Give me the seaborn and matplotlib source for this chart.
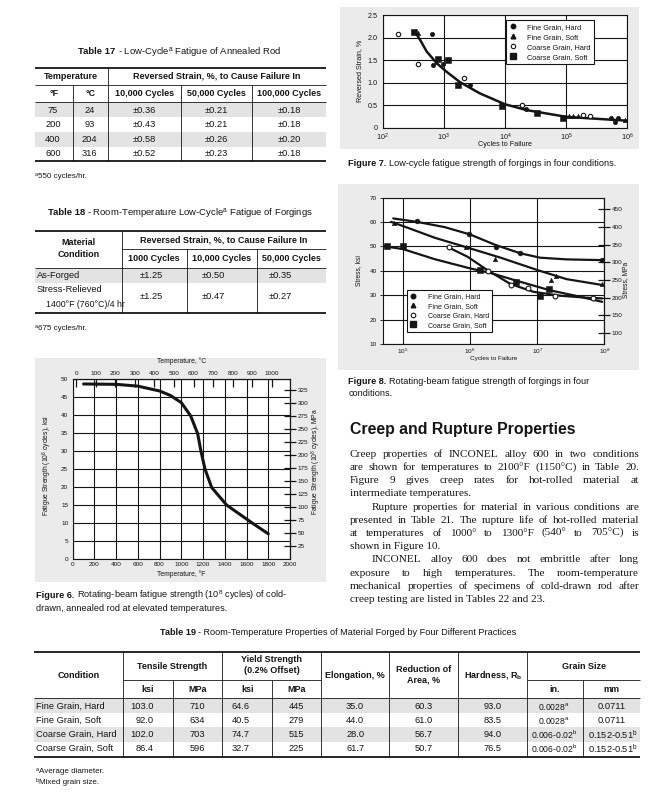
import matplotlib
matplotlib.use("Agg")
import matplotlib.pyplot as plt
import seaborn as sns
import numpy as np
import pandas as pd
from matplotlib.lines import Line2D
from matplotlib.patches import Rectangle

# ------------------------------------------------------------------ data
conditions = ["Fine Grain, Hard", "Fine Grain, Soft", "Coarse Grain, Hard", "Coarse Grain, Soft"]

# Table 17
t17_temp_f = ["75", "200", "400", "600"]
t17_temp_c = ["24", "93", "204", "316"]
t17_cycle_labels = ["10,000 Cycles", "50,000 Cycles", "100,000 Cycles"]
t17_strain_10k = ["±0.36", "±0.43", "±0.58", "±0.52"]
t17_strain_50k = ["±0.21", "±0.21", "±0.26", "±0.23"]
t17_strain_100k = ["±0.18", "±0.18", "±0.20", "±0.18"]

# Table 18
t18_cycle_labels = ["1000 Cycles", "10,000 Cycles", "50,000 Cycles"]
t18_conditions = ["As-Forged", "Stress-Relieved"]
t18_detail = ["", "1400°F (760°C)/4 hr"]
t18_strain_1k = ["±1.25", "±1.25"]
t18_strain_10k = ["±0.50", "±0.47"]
t18_strain_50k = ["±0.35", "±0.27"]

# Table 19
t19_tensile_ksi = ["103.0", "92.0", "102.0", "86.4"]
t19_tensile_mpa = ["710", "634", "703", "596"]
t19_yield_ksi = ["64.6", "40.5", "74.7", "32.7"]
t19_yield_mpa = ["445", "279", "515", "225"]
t19_elongation = ["35.0", "44.0", "28.0", "61.7"]
t19_reduction = ["60.3", "61.0", "56.7", "50.7"]
t19_hardness = ["93.0", "83.5", "94.0", "76.5"]
t19_grain_in = ["0.0028", "0.0028", "0.006-0.02", "0.006-0.02"]
t19_grain_in_note = ["a", "a", "b", "b"]
t19_grain_mm = ["0.0711", "0.0711", "0.152-0.51", "0.152-0.51"]
t19_grain_mm_note = ["", "", "b", "b"]

# Figure 7 (low-cycle fatigue)
f7_fh_cycles = [632, 656, 982, 2680, 22000, 541000, 628000, 713000]
f7_fh_strain = [2.07, 1.39, 1.42, 0.95, 0.41, 0.22, 0.13, 0.21]
f7_fs_cycles = [383, 745, 110000, 131000, 154000, 912000]
f7_fs_strain = [2.11, 1.46, 0.26, 0.26, 0.26, 0.18]
f7_ch_cycles = [180, 383, 2160, 18700, 191000, 245000]
f7_ch_strain = [2.07, 1.41, 1.11, 0.50, 0.28, 0.27]
f7_cs_cycles = [325, 794, 1190, 1680, 8800, 33000, 90000]
f7_cs_strain = [2.12, 1.52, 1.50, 0.95, 0.48, 0.32, 0.21]
f7_curve_cycles = [351, 408, 524, 764, 1110, 1840, 3900, 10000, 22600, 102000, 1000000]
f7_curve_strain = [2.09, 1.95, 1.69, 1.43, 1.24, 1.01, 0.76, 0.52, 0.39, 0.24, 0.155]
f7_xticks = [1e2, 1e3, 1e4, 1e5, 1e6]
f7_xticklabels = [r"$10^{2}$", r"$10^{3}$", r"$10^{4}$", r"$10^{5}$", r"$10^{6}$"]
f7_yticks = [0, 0.5, 1.0, 1.5, 2.0, 2.5]
f7_yticklabels = ["0", "0.5", "1.0", "1.5", "2.0", "2.5"]

# Figure 8 (rotating-beam fatigue of forgings)
f8_fh_cycles = [161000, 966000, 2390000, 5600000, 93000000]
f8_fh_stress = [60.4, 55.2, 49.75, 47.2, 44.4]
f8_fs_cycles = [73600, 863000, 2350000, 16100000, 19000000, 93000000]
f8_fs_stress = [59.7, 49.6, 44.8, 36.4, 37.9, 34.5]
f8_ch_cycles = [490000, 1850000, 4080000, 7200000, 18500000, 69000000]
f8_ch_stress = [49.6, 39.9, 34.3, 33.0, 29.5, 28.7]
f8_cs_cycles = [56800, 100000, 1410000, 4900000, 11000000, 15000000]
f8_cs_stress = [50.0, 50.0, 40.2, 35.4, 29.7, 32.4]
f8_fh_curve_cycles = [71100, 167000, 413000, 1000000, 2390000, 5600000, 11000000, 27400000, 93000000]
f8_fh_curve_stress = [61.5, 60.0, 57.95, 54.9, 50.6, 47.2, 45.4, 44.7, 44.4]
f8_fs_curve_cycles = [65800, 106000, 294000, 1000000, 2840000, 10100000, 27400000, 93000000]
f8_fs_curve_stress = [60.1, 58.1, 53.6, 49.2, 45.4, 40.3, 36.6, 34.2]
f8_cs_curve_cycles = [49500, 100000, 294000, 1000000, 2020000, 5600000, 15600000, 38500000, 93000000]
f8_cs_curve_stress = [50.2, 48.9, 44.8, 41.0, 39.1, 35.5, 32.0, 29.7, 27.3]
f8_ch_curve_cycles = [462000, 912000, 1800000, 3990000, 8800000, 21900000, 54000000, 93000000]
f8_ch_curve_stress = [49.75, 45.8, 40.3, 34.6, 31.4, 29.8, 29.0, 28.7]
f8_xticks = [1e5, 1e6, 1e7, 1e8]
f8_xticklabels = [r"$10^{5}$", r"$10^{6}$", r"$10^{7}$", r"$10^{8}$"]
f8_yticks = [10, 20, 30, 40, 50, 60, 70]
f8_mpa_ticks = [100, 150, 200, 250, 300, 350, 400, 450]

# Figure 6 (fatigue strength vs temperature)
f6_temp_f = [100, 400, 600, 800, 900, 1000, 1086, 1150, 1181, 1218, 1279, 1417, 1653, 1800]
f6_strength_ksi = [48.7, 48.6, 48.1, 46.75, 45.5, 43.5, 39.8, 34.9, 29.9, 25.0, 19.9, 15.0, 10.0, 7.0]
f6_xticks = [0, 200, 400, 600, 800, 1000, 1200, 1400, 1600, 1800, 2000]
f6_yticks = [0, 5, 10, 15, 20, 25, 30, 35, 40, 45, 50]
f6_c_ticks = [0, 100, 200, 300, 400, 500, 600, 700, 800, 900, 1000]
f6_mpa_ticks = [25, 50, 75, 100, 125, 150, 175, 200, 225, 250, 275, 300, 325]

body_lines = [
    "Creep properties of INCONEL alloy 600 in two conditions",
    "are shown for temperatures to 2100°F (1150°C) in Table 20.",
    "Figure 9 gives creep rates for hot-rolled material at",
    "intermediate temperatures.",
    "Rupture properties for material in various conditions are",
    "presented in Table 21. The rupture life of hot-rolled material",
    "at temperatures of 1000° to 1300°F (540° to 705°C) is",
    "shown in Figure 10.",
    "INCONEL alloy 600 does not embrittle after long",
    "exposure to high temperatures. The room-temperature",
    "mechanical properties of specimens of cold-drawn rod after",
    "creep testing are listed in Tables 22 and 23.",
]
body_indent = [0, 0, 0, 0, 1, 0, 0, 0, 1, 0, 0, 0]
body_last = [0, 0, 0, 1, 0, 0, 0, 1, 0, 0, 0, 1]

# ------------------------------------------------------------------ style
sns.set_theme(style="white")
INK = "#151515"
plt.rcParams.update({
    "font.family": ["Liberation Sans", "DejaVu Sans"],
    "mathtext.fontset": "custom",
    "mathtext.rm": "Liberation Sans",
    "mathtext.it": "Liberation Sans:italic",
    "mathtext.bf": "Liberation Sans:bold",
    "axes.edgecolor": INK,
    "axes.linewidth": 0.8,
    "text.color": INK,
    "xtick.color": INK,
    "ytick.color": INK,
    "axes.labelcolor": INK,
})
SANS = ["Liberation Sans", "DejaVu Sans"]
SERIF = ["Liberation Serif", "DejaVu Serif"]
GRAY_BOX = "#ebebeb"
SHADE = "#e3e3e3"

W, H, DPI = 667, 797, 100
fig = plt.figure(figsize=(W / DPI, H / DPI), dpi=DPI)
fig.patch.set_facecolor("white")
R = fig.canvas.get_renderer()


def fx(x):
    return x / W


def fy(y):
    return 1 - y / H


def rect(x0, y0, x1, y1, color, z=0):
    fig.add_artist(Rectangle((fx(x0), fy(y1)), (x1 - x0) / W, (y1 - y0) / H,
                             transform=fig.transFigure, facecolor=color,
                             edgecolor="none", zorder=z))


def hline(x0, x1, y, lw=0.55):
    fig.add_artist(Line2D([fx(x0), fx(x1)], [fy(y), fy(y)], transform=fig.transFigure,
                          lw=lw, color=INK, solid_capstyle="butt", zorder=2))


def vline(x, y0, y1, lw=0.55):
    fig.add_artist(Line2D([fx(x), fx(x)], [fy(y0), fy(y1)], transform=fig.transFigure,
                          lw=lw, color=INK, solid_capstyle="butt", zorder=2))


def txt(x, y, s, size=6.6, weight="normal", ha="center", va="center", family=None, **kw):
    return fig.text(fx(x), fy(y), s, fontsize=size, fontweight=weight, ha=ha, va=va,
                    color=INK, family=family or SANS, zorder=3, **kw)


def width(t):
    return t.get_window_extent(R).width


def two_part(x, y, bold, rest, size, ha="left", gap=2.5):
    a = txt(0, y, bold, size=size, weight="bold", ha="left")
    b = txt(0, y, rest, size=size, ha="left")
    wa, wb = width(a), width(b)
    x0 = x - (wa + gap + wb) / 2 if ha == "center" else x
    a.set_x(fx(x0))
    b.set_x(fx(x0 + wa + gap))


THICK, THIN = 1.3, 0.6
HDR = 6.5
CELL = 6.7
NOTE = {"a": "ᵃ", "b": "ᵇ", "": ""}

# ------------------------------------------------------------------ Table 17
two_part(180, 52, "Table 17", "- Low-Cycle$^{\\mathrm{a}}$ Fatigue of Annealed Rod", 6.8, ha="center")
hline(35, 326, 68.3, THICK)
hline(35, 326, 85, THIN)
hline(35, 326, 101.7, THIN)
t17_rows = [110.2, 124.6, 139.3, 153.8]
rect(35, 102, 326, 117.4, SHADE)
rect(35, 132, 326, 146.8, SHADE)
hline(35, 326, 161, THICK)
vline(108.3, 68.3, 161, THIN)
vline(73.3, 85, 161, THIN)
vline(180.7, 85, 161, THIN)
vline(252.3, 85, 161, THIN)
txt(71, 76.5, "Temperature", size=HDR, weight="bold")
txt(217, 76.5, "Reversed Strain, %, to Cause Failure In", size=HDR, weight="bold")
txt(54, 93.5, "°F", size=HDR, weight="bold")
txt(90.8, 93.5, "°C", size=HDR, weight="bold")
for cx, lab in zip([144.5, 216.5, 289.2], t17_cycle_labels):
    txt(cx, 93.5, lab, size=HDR, weight="bold")
for i, y in enumerate(t17_rows):
    txt(53, y, t17_temp_f[i], size=CELL)
    txt(89.5, y, t17_temp_c[i], size=CELL)
    txt(144.5, y, t17_strain_10k[i], size=CELL)
    txt(216.5, y, t17_strain_50k[i], size=CELL)
    txt(289.2, y, t17_strain_100k[i], size=CELL)
txt(35, 176.7, "ᵃ550 cycles/hr.", size=5.8, ha="left")

# ------------------------------------------------------------------ Table 18
two_part(180.5, 212.7, "Table 18", "- Room-Temperature Low-Cycle$^{\\mathrm{a}}$ Fatigue of Forgings", 6.8, ha="center")
hline(35, 326, 230.7, THICK)
hline(121.7, 326, 249.3, THIN)
hline(35, 326, 268.3, THIN)
rect(35, 268.6, 326, 282.5, SHADE)
hline(35, 326, 313.3, THICK)
vline(121.7, 230.7, 313.3, THIN)
vline(186.7, 249.3, 313.3, THIN)
vline(256.7, 249.3, 313.3, THIN)
txt(78.3, 242.7, "Material", size=HDR, weight="bold")
txt(78.3, 254.2, "Condition", size=HDR, weight="bold")
txt(224, 239.5, "Reversed Strain, %, to Cause Failure In", size=HDR, weight="bold")
for cx, lab in zip([154.2, 221.7, 291.3], t18_cycle_labels):
    txt(cx, 258.6, lab, size=HDR, weight="bold")
t18_rows = [275.7, 296.7]
t18_name_rows = [275.7, 289.3]
for i in range(2):
    txt(36.5, t18_name_rows[i], t18_conditions[i], size=CELL, ha="left")
    if t18_detail[i]:
        txt(46, 304.3, t18_detail[i], size=6.3, ha="left")
    txt(151, t18_rows[i], t18_strain_1k[i], size=CELL)
    txt(213, t18_rows[i], t18_strain_10k[i], size=CELL)
    txt(280, t18_rows[i], t18_strain_50k[i], size=CELL)
txt(35, 328, "ᵃ675 cycles/hr.", size=5.8, ha="left")

# ------------------------------------------------------------------ Table 19
two_part(338.3, 632.3, "Table 19", "- Room-Temperature Properties of Material Forged by Four Different Practices", 6.6, ha="center")
c19 = [34, 122.7, 172.7, 222.3, 272.3, 321, 389.3, 458.3, 527.3, 582.7, 640]
cen = [(c19[i] + c19[i + 1]) / 2 for i in range(10)]
hline(34, 640, 652.3, THICK)
hline(122.7, 321, 680, THIN)
hline(527.3, 640, 680, THIN)
hline(34, 640, 697.7, THIN)
rect(34, 698, 640, 713.3, SHADE)
rect(34, 727.4, 640, 741.7, SHADE)
hline(34, 640, 756.7, THICK)
for xi in [122.7, 222.3, 321, 389.3, 458.3, 527.3]:
    vline(xi, 652.3, 756.7, THIN)
for xi in [172.7, 272.3, 582.7]:
    vline(xi, 680, 756.7, THIN)
txt(78.3, 675, "Condition", size=HDR, weight="bold")
txt(172.5, 666.7, "Tensile Strength", size=HDR, weight="bold")
txt(271.7, 659.6, "Yield Strength", size=HDR, weight="bold")
txt(271.7, 670.8, "(0.2% Offset)", size=HDR, weight="bold")
txt(355.2, 675, "Elongation, %", size=HDR, weight="bold")
txt(423.8, 669.4, "Reduction of", size=HDR, weight="bold")
txt(423.8, 680.2, "Area, %", size=HDR, weight="bold")
txt(492.8, 675, "Hardness, R$_{\\mathbf{b}}$", size=HDR, weight="bold")
txt(583.7, 666.7, "Grain Size", size=HDR, weight="bold")
for cx, lab in zip([147.7, 197.5, 247.3, 296.7, 555, 611.3], ["ksi", "MPa", "ksi", "MPa", "in.", "mm"]):
    txt(cx, 689.2, lab, size=HDR, weight="bold")
t19_rows = [706.5, 720.6, 734.4, 748.6]
for i, y in enumerate(t19_rows):
    txt(36, y, conditions[i], size=CELL, ha="left")
    txt(154, y, t19_tensile_ksi[i], size=CELL, ha="right")
    txt(197.5, y, t19_tensile_mpa[i], size=CELL)
    txt(250, y, t19_yield_ksi[i], size=CELL, ha="right")
    txt(296.7, y, t19_yield_mpa[i], size=CELL)
    txt(cen[5], y, t19_elongation[i], size=CELL)
    txt(cen[6], y, t19_reduction[i], size=CELL)
    txt(cen[7], y, t19_hardness[i], size=CELL)
    note = t19_grain_in_note[i]
    txt(cen[8] - 1, y, t19_grain_in[i] + ("$^{\\mathrm{%s}}$" % note if note else ""), size=6.2)
    note = t19_grain_mm_note[i]
    txt(cen[9] + (1 if note else 0), y, t19_grain_mm[i] + ("$^{\\mathrm{%s}}$" % note if note else ""), size=CELL)
txt(36, 771.7, "ᵃAverage diameter.", size=5.8, ha="left")
txt(36, 782.3, "ᵇMixed grain size.", size=5.8, ha="left")

# ------------------------------------------------------------------ gray chart panels
rect(340, 7, 639, 149, GRAY_BOX, z=-1)
rect(338, 184, 639, 370, GRAY_BOX, z=-1)
rect(35, 358, 326, 582, GRAY_BOX, z=-1)


def add_axes_px(left, top, right, bottom):
    return fig.add_axes([fx(left), fy(bottom), (right - left) / W, (bottom - top) / H])


def legend_handles(ms_circle, ms_tri, ms_square):
    return [
        Line2D([], [], ls="", marker="o", mfc=INK, mec=INK, ms=ms_circle, label=conditions[0]),
        Line2D([], [], ls="", marker="^", mfc=INK, mec=INK, ms=ms_tri, label=conditions[1]),
        Line2D([], [], ls="", marker="o", mfc="white", mec=INK, mew=0.8, ms=ms_circle, label=conditions[2]),
        Line2D([], [], ls="", marker="s", mfc=INK, mec=INK, ms=ms_square, label=conditions[3]),
    ]


def scatter_sets(ax, sets, s_circle, s_tri, s_square):
    styles = [dict(marker="o", s=s_circle, color=INK, edgecolor=INK, linewidth=0.4),
              dict(marker="^", s=s_tri, color=INK, edgecolor=INK, linewidth=0.4),
              dict(marker="o", s=s_circle, facecolor="white", edgecolor=INK, linewidth=0.8),
              dict(marker="s", s=s_square, color=INK, edgecolor=INK, linewidth=0.4)]
    for (xs, ys), st in zip(sets, styles):
        sns.scatterplot(x=xs, y=ys, ax=ax, zorder=4, legend=False, **st)


def frame(ax):
    for sp in ax.spines.values():
        sp.set_visible(True)
        sp.set_color(INK)
        sp.set_linewidth(0.8)
    ax.set_facecolor("white")
    ax.set_axisbelow(True)


# ------------------------------------------------------------------ Figure 7
ax7 = add_axes_px(382.7, 15, 627.3, 127.7)
ax7.set_xscale("log")
sns.lineplot(x=f7_curve_cycles, y=f7_curve_strain, ax=ax7, color=INK, lw=1.8,
             sort=False, estimator=None, zorder=3)
scatter_sets(ax7, [(f7_fh_cycles, f7_fh_strain), (f7_fs_cycles, f7_fs_strain),
                   (f7_ch_cycles, f7_ch_strain), (f7_cs_cycles, f7_cs_strain)], 10, 10, 15)
ax7.set_xlim(1e2, 1e6)
ax7.set_ylim(0, 2.5)
ax7.set_xticks(f7_xticks, labels=f7_xticklabels)
ax7.set_yticks(f7_yticks, labels=f7_yticklabels)
ax7.xaxis.set_minor_locator(matplotlib.ticker.NullLocator())
ax7.grid(True, which="major", color=INK, lw=0.8)
ax7.tick_params(axis="y", length=0, labelsize=5.2, pad=3.9)
ax7.tick_params(axis="x", length=0, labelsize=5.2, pad=2.6)
frame(ax7)
ax7.set_xlabel("")
ax7.set_ylabel("")
txt(505, 144.6, "Cycles to Failure", size=5.2)
txt(360, 71.3, "Reversed Strain, %", size=5.2, rotation=90)
leg7 = ax7.legend(handles=legend_handles(3.2, 3.4, 3.9), loc="upper right",
                  bbox_to_anchor=((594 - 382.7) / 244.6, 1 - (20 - 15) / 112.7),
                  borderaxespad=0, fontsize=5.3, frameon=True, fancybox=False,
                  edgecolor=INK, framealpha=1, labelspacing=0.38, handlelength=1.0,
                  handletextpad=1.4, borderpad=0.5)
leg7.get_frame().set_linewidth(0.8)
two_part(348.3, 163.3, "Figure 7.", "Low-cycle fatigue strength of forgings in four conditions.", 6.6)

# ------------------------------------------------------------------ Figure 8
ax8 = add_axes_px(382.7, 197.7, 604.3, 344)
ax8.set_xscale("log")
for cx_, cy_ in [(f8_fh_curve_cycles, f8_fh_curve_stress), (f8_fs_curve_cycles, f8_fs_curve_stress),
                 (f8_cs_curve_cycles, f8_cs_curve_stress), (f8_ch_curve_cycles, f8_ch_curve_stress)]:
    sns.lineplot(x=cx_, y=cy_, ax=ax8, color=INK, lw=1.6, sort=False, estimator=None, zorder=3)
scatter_sets(ax8, [(f8_fh_cycles, f8_fh_stress), (f8_fs_cycles, f8_fs_stress),
                   (f8_ch_cycles, f8_ch_stress), (f8_cs_cycles, f8_cs_stress)], 12, 10, 24)
ax8.set_xlim(49500, 1e8)
ax8.set_ylim(10, 70)
ax8.set_xticks(f8_xticks, labels=f8_xticklabels)
ax8.set_yticks(f8_yticks, labels=[str(v) for v in f8_yticks])
ax8.xaxis.set_minor_locator(matplotlib.ticker.NullLocator())
ax8.grid(True, which="major", color=INK, lw=0.8)
ax8.tick_params(axis="y", left=True, length=2, width=0.6, labelsize=4.6, pad=2)
ax8.tick_params(axis="x", length=0, labelsize=4.6, pad=2)
frame(ax8)
ax8.set_xlabel("")
ax8.set_ylabel("")
sec8 = ax8.secondary_yaxis("right", functions=(lambda k: k * 6.895, lambda m: m / 6.895))
sec8.set_yticks(f8_mpa_ticks, labels=[str(v) for v in f8_mpa_ticks])
sec8.tick_params(axis="y", right=True, direction="inout", length=8, width=0.9, labelsize=4.6, pad=1.5)
sec8.spines["right"].set_color(INK)
sec8.spines["right"].set_linewidth(0.8)
txt(493.5, 358.5, "Cycles to Failure", size=4.6)
txt(358.3, 271, "Stress, ksi", size=4.8, rotation=90)
txt(626, 280, "Stress, MPa", size=4.8, rotation=90)
leg8 = ax8.legend(handles=legend_handles(3.3, 3.3, 4.6), loc="lower left",
                  bbox_to_anchor=((406.7 - 382.7) / 221.6, (344 - 331.7) / 146.3),
                  borderaxespad=0, fontsize=5.0, frameon=True, fancybox=False,
                  edgecolor=INK, framealpha=1, labelspacing=0.35, handlelength=1.0,
                  handletextpad=1.6, borderpad=0.45)
leg8.get_frame().set_linewidth(0.8)
two_part(348.3, 381.5, "Figure 8.", "Rotating-beam fatigue strength of forgings in four", 6.6)
txt(348.3, 393.5, "conditions.", size=6.6, ha="left")

# ------------------------------------------------------------------ Figure 6
ax6 = add_axes_px(72.7, 379.3, 290, 559)
sns.lineplot(x=f6_temp_f, y=f6_strength_ksi, ax=ax6, color=INK, lw=2.2,
             sort=False, estimator=None, zorder=3)
ax6.set_xlim(0, 2000)
ax6.set_ylim(0, 50)
ax6.set_xticks(f6_xticks, labels=[str(v) for v in f6_xticks])
ax6.set_yticks(f6_yticks, labels=[str(v) for v in f6_yticks])
ax6.grid(True, color=INK, lw=0.8)
ax6.tick_params(length=0, labelsize=4.6, pad=2.4)
ax6.tick_params(axis="y", pad=3.2)
frame(ax6)
ax6.set_xlabel("")
ax6.set_ylabel("")
sec6r = ax6.secondary_yaxis("right", functions=(lambda k: k * 6.895, lambda m: m / 6.895))
sec6r.set_yticks(f6_mpa_ticks, labels=[str(v) for v in f6_mpa_ticks])
sec6r.tick_params(axis="y", right=True, direction="inout", length=8.4, width=0.9, labelsize=4.6, pad=1.5)
sec6r.spines["right"].set_linewidth(0.8)
sec6t = ax6.secondary_xaxis("top", functions=(lambda f: (f - 32) * 5 / 9, lambda c: c * 9 / 5 + 32))
sec6t.set_xticks(f6_c_ticks, labels=[str(v) for v in f6_c_ticks])
sec6t.tick_params(axis="x", top=True, direction="in", length=5.8, width=0.9, labelsize=4.6, pad=2.2)
sec6t.spines["top"].set_linewidth(0.8)
txt(181.3, 361, "Temperature, °C", size=4.9)
txt(181.3, 573.7, "Temperature, °F", size=4.9)
txt(47.7, 466, "Fatigue Strength (10$^{8}$ cycles), ksi", size=4.9, rotation=90)
txt(316, 462, "Fatigue Strength (10$^{8}$ cycles), MPa", size=4.9, rotation=90)
two_part(36, 595, "Figure 6.", "Rotating-beam fatigue strength (10$^{8}$ cycles) of cold-", 6.6)
txt(36, 608.3, "drawn, annealed rod at elevated temperatures.", size=6.6, ha="left")

# ------------------------------------------------------------------ text column
txt(350, 429.3, "Creep and Rupture Properties", size=11.4, weight="bold", ha="left")
BODY = 8.1
X0, X1 = 350, 639
body_y = [454.3, 467.3, 480.4, 493.2, 506.6, 519.8, 533.0, 546.1, 559.3, 572.6, 585.8, 599.0]
for line, y, ind, last in zip(body_lines, body_y, body_indent, body_last):
    xs = X0 + (21.7 if ind else 0)
    yb = y + 3.0
    if last:
        fig.text(fx(xs), fy(yb), line, fontsize=BODY, family=SERIF, ha="left", va="baseline", color=INK)
        continue
    words = line.split()
    ts = [fig.text(0, fy(yb), w, fontsize=BODY, family=SERIF, ha="left", va="baseline", color=INK)
          for w in words]
    ws = [width(t) for t in ts]
    gap = (X1 - xs - sum(ws)) / (len(words) - 1)
    xc = xs
    for t, w in zip(ts, ws):
        t.set_x(fx(xc))
        xc += w + gap

fig.savefig("out.png", dpi=DPI, facecolor="white")
